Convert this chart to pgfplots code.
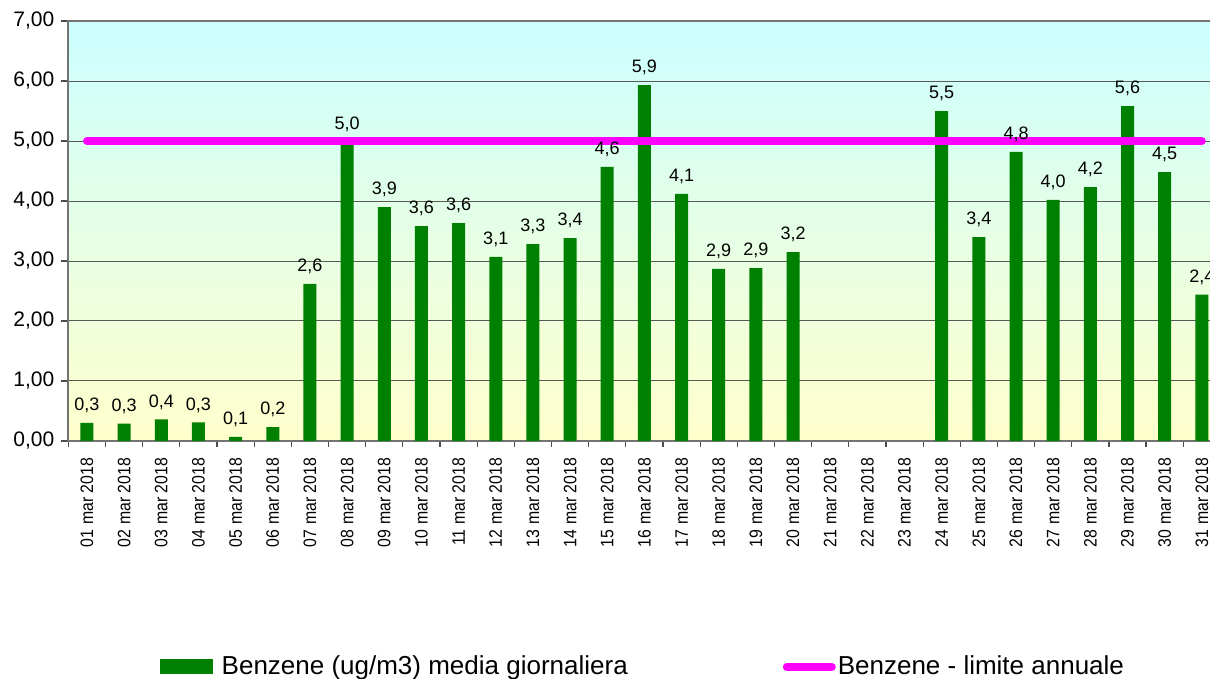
\documentclass[border=0pt]{standalone}
\usepackage{fontspec}
\setmainfont{Liberation Sans}
\newfontfamily\condensed[FakeStretch=0.88]{Liberation Sans}
\usepackage{pgfplots}
\pgfplotsset{compat=1.18}
\definecolor{bargreen}{HTML}{008000}
\definecolor{limmag}{HTML}{FF00FF}
\definecolor{bgtop}{HTML}{CCFFFF}
\definecolor{bgbot}{HTML}{FFFFCC}
\begin{document}
\begin{tikzpicture}
\useasboundingbox (0,0) rectangle (605pt,339.5pt);
\clip (0,0) rectangle (605pt,339.5pt);
\begin{axis}[
  at={(34.2pt,119pt)}, anchor=south west,
  width=576pt, height=210pt, scale only axis,
  xmin=0.5, xmax=31.5, ymin=0, ymax=7,
  ytick={0,1,...,7},
  xtick={1,...,31},
  xticklabels={01 mar 2018,02 mar 2018,03 mar 2018,04 mar 2018,05 mar 2018,06 mar 2018,07 mar 2018,08 mar 2018,09 mar 2018,10 mar 2018,11 mar 2018,12 mar 2018,13 mar 2018,14 mar 2018,15 mar 2018,16 mar 2018,17 mar 2018,18 mar 2018,19 mar 2018,20 mar 2018,21 mar 2018,22 mar 2018,23 mar 2018,24 mar 2018,25 mar 2018,26 mar 2018,27 mar 2018,28 mar 2018,29 mar 2018,30 mar 2018,31 mar 2018},
  minor xtick={0.5,1.5,...,31.5},
  tick pos=left,
  x tick label style={rotate=90, anchor=east, font=\condensed\fontsize{9}{10}\selectfont, xshift=-1.5pt},
  y tick label style={font=\fontsize{10.5}{12}\selectfont},
  /pgf/number format/assume math mode=true,
  yticklabel={\pgfmathprintnumber[fixed,fixed zerofill,precision=2,use comma]{\tick}},
  tick align=outside,
  major x tick style={draw=none},
  minor tick length=3pt,
  major tick length=3.5pt,
  tick style={color=black!70, line width=0.6pt},
  ymajorgrids,
  grid style={color=black!65, line width=0.5pt},
  axis line style={color=black!55, line width=1pt},
  axis background/.style={top color=bgtop, bottom color=bgbot},
  legend style={at={(axis description cs:0.0737,-0.538)}, anchor=west, draw=none, fill=none,
    font=\fontsize{13}{15}\selectfont, legend columns=2,
    /tikz/every even column/.append style={column sep=76.5pt},
    nodes={inner sep=1pt}},
  legend cell align=left,
]
\addplot[ybar, bar width=6.5pt, fill=bargreen, draw=none,
  nodes near coords,
  nodes near coords style={font=\fontsize{9}{10}\selectfont, color=black, yshift=1.5pt},
  point meta=y,
  every node near coord/.append style={/pgf/number format/.cd, fixed, fixed zerofill, precision=1, use comma, assume math mode=true},
  legend image code/.code={\fill[bargreen] (0pt,-3.75pt) rectangle (26.5pt,3.75pt); \path (30pt,0pt);}
] coordinates {
(1,0.30) (2,0.29) (3,0.36) (4,0.31) (5,0.07) (6,0.23) (7,2.62) (8,4.98)
(9,3.90) (10,3.58) (11,3.63) (12,3.07) (13,3.28) (14,3.38) (15,4.57) (16,5.93)
(17,4.12) (18,2.87) (19,2.88) (20,3.15)
(24,5.50) (25,3.40) (26,4.82) (27,4.02) (28,4.23) (29,5.58) (30,4.48) (31,2.44)
};
\addlegendentry{Benzene (ug/m3) media giornaliera}
\addplot[color=limmag, line width=4pt, line cap=round, mark=none,
  legend image code/.code={\draw[limmag, line width=4pt, line cap=round] (2pt,0pt) -- (24.5pt,0pt);}
] coordinates {(1,5) (31,5)};
\addlegendentry{Benzene - limite annuale}
\end{axis}
\end{tikzpicture}
\end{document}
